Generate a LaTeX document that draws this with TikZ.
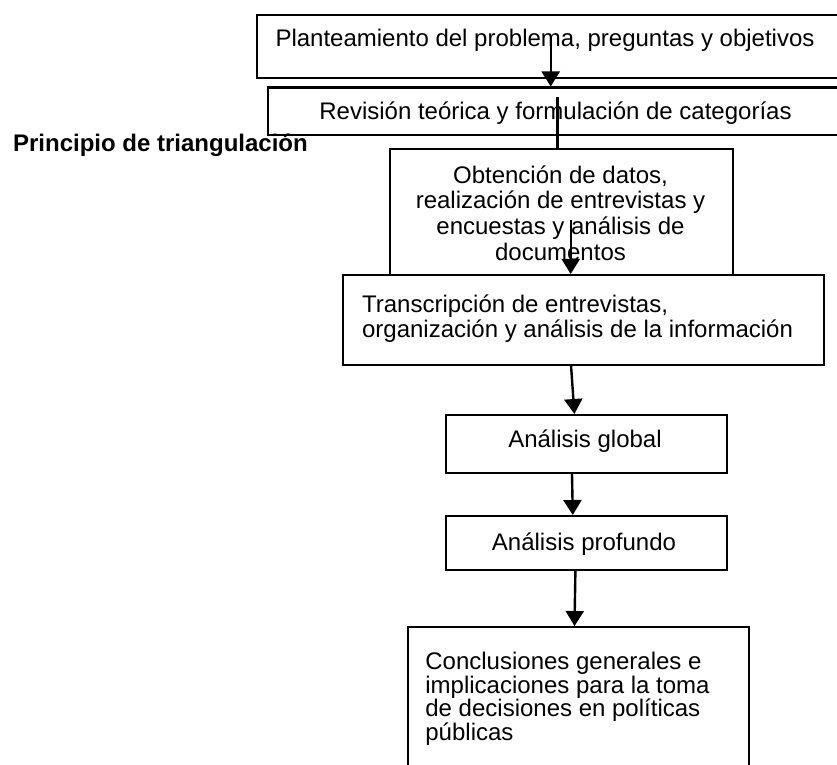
\documentclass[tikz,border=0pt]{standalone}
\usepackage{fontspec}
\setmainfont{Liberation Sans}
\usetikzlibrary{arrows.meta}

\tikzset{
  box/.style={draw, line width=1.1pt, fill=white, anchor=north west, inner sep=0pt},
  txt/.style={inner sep=0pt, font=\fontsize{12}{12.5}\selectfont},
  arr/.style={line width=1.2pt, -{Triangle[width=9pt,length=7.5pt]}}
}

\begin{document}
\begin{tikzpicture}[x=0.5pt,y=-0.5pt]
    \useasboundingbox[fill=white] (0,0) rectangle (837,765);
    \clip (0,0) rectangle (837,765);

    % upper boxes
    \node[box, minimum width=297pt, minimum height=31.2pt] (plant) at (255.7,14.3) {};
    \node[txt, anchor=base] (plantT) at (545,46.7) {Planteamiento del problema, preguntas y objetivos};
    \node[box, minimum width=292pt, minimum height=23.9pt] (rev) at (266.7,86.5) {};
    \node[txt, anchor=base] (revT) at (555.5,120) {Revisión teórica y formulación de categorías};
    \node[txt, anchor=base west, font=\fontsize{12}{12.5}\selectfont\bfseries] (titulo) at (12.7,151.7) {Principio de triangulación};

    \coordinate (a1) at (550.7,38.3);
    \coordinate (a2) at (557.3,96.7);
    \draw[arr] (a1) -- (a1 |- rev.north);
    \draw[line width=1.2pt] (a2) -- (a2 |- 0,148);

    \node[box, minimum width=171.5pt, minimum height=63pt] (obt) at (389,148.3) {};
    % multi-line nodes: base is the last line
    \node[txt, anchor=base, align=center, font=\fontsize{12}{13}\selectfont] (obtT) at (560.5,261)
        {Obtención de datos,\\realización de entrevistas y\\encuestas y análisis de\\documentos};

    % middle
    \node[box, minimum width=240.7pt, minimum height=45pt] (trans) at (341.7,274) {};
    \node[txt, anchor=base west, align=left] (transT) at (361.7,337)
        {Transcripción de entrevistas,\\organización y análisis de la información};
    \coordinate (a3) at (570.7,220);
    \draw[arr] (a3) -- (a3 |- trans.north);

    \node[box, minimum width=140.3pt, minimum height=29pt] (glob) at (445,414) {};
    \node[txt, anchor=base] (globT) at (585,447.3) {Análisis global};
    \node[box, minimum width=140.3pt, minimum height=27pt] (prof) at (445,515) {};
    \node[txt, anchor=base] (profT) at (584,550.7) {Análisis profundo};
    \node[box, minimum width=170.7pt, minimum height=87pt] (concl) at (406.7,626) {};
    \node[txt, anchor=base west, align=left, font=\fontsize{12}{11.7}\selectfont] (conclT) at (425,740)
        {Conclusiones generales e\\implicaciones para la toma\\de decisiones en políticas\\públicas};

    \draw[arr] ([xshift=-6.2pt]trans.south) -- ([xshift=-6pt]glob.north);
    \draw[arr] ([xshift=-7.2pt]glob.south) -- ([xshift=-6.8pt]prof.north);
    \draw[arr] ([xshift=-5.5pt]prof.south) -- ([xshift=-2pt]concl.north);
\end{tikzpicture}
\end{document}
